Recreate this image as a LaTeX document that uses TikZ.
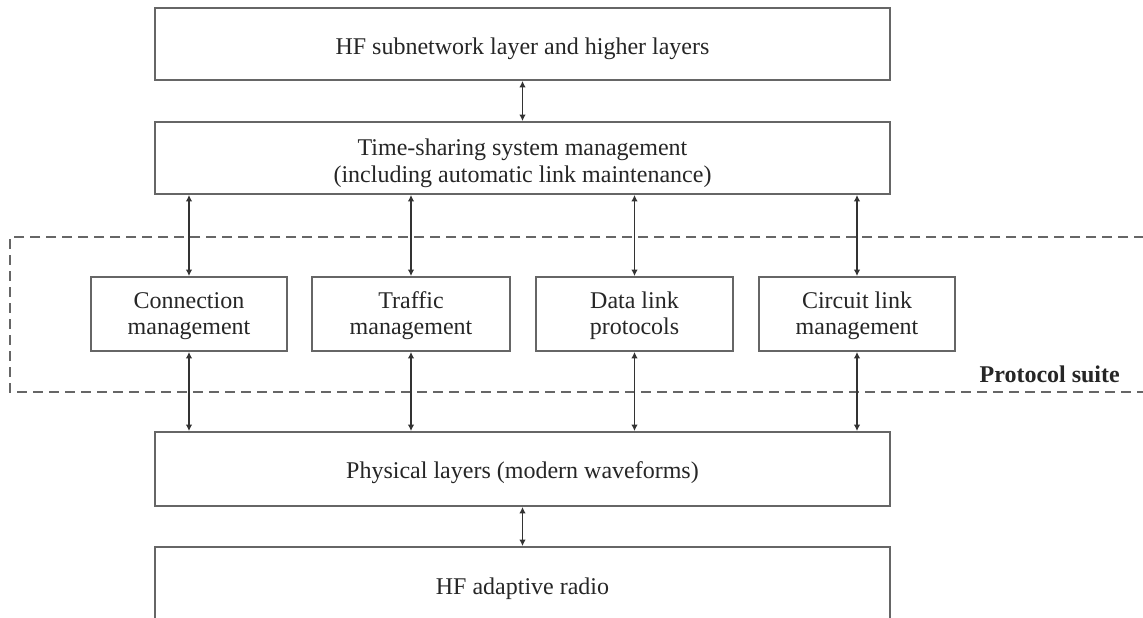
\documentclass[tikz,border=0pt]{standalone}
\usepackage{fontspec}
\setmainfont{Liberation Serif}
\usetikzlibrary{arrows.meta}
\definecolor{boxline}{HTML}{666666}
\definecolor{arrline}{HTML}{333333}
\definecolor{txt}{HTML}{262626}
\newcommand{\liftA}{\rule{0pt}{20.4pt}}
\newcommand{\liftB}{\rule{0pt}{28pt}}
\tikzset{
  layerbox/.style={draw=boxline, line width=1.8pt, fill=white, inner sep=0pt, minimum height=72pt, minimum width=735pt, align=center, text=txt, font=\fontsize{24}{27}\selectfont},
  onelayer/.style={layerbox, text height=24.5pt, text depth=5.2pt},
  subbox/.style={draw=boxline, line width=1.8pt, fill=white, inner sep=0pt, minimum height=74pt, minimum width=197pt, align=center, text=txt, font=\fontsize{24}{26.5}\selectfont},
  biarrow/.style={draw=arrline, line width=1.5pt, {Latex[length=6.5pt,width=6.5pt]}-{Latex[length=6.5pt,width=6.5pt]}},
  suitebox/.style={draw=boxline, line width=1.6pt, dash pattern=on 10pt off 6pt},
}
\begin{document}
\begin{tikzpicture}[x=1pt,y=-1pt]
\useasboundingbox (0,0) rectangle (1143,618);
\clip (0,0) rectangle (1143,618);
\fill[white] (0,0) rectangle (1143,618);
% dashed protocol suite region
\draw[suitebox] (1160,237) -- (10,237) -- (10,392) -- (1160,392);
\node[font=\fontsize{24}{27}\selectfont\bfseries, text=txt, anchor=base east, inner sep=0pt] (suite) at (1120,382) {Protocol suite};
% layer boxes
\node[onelayer, text height=25.5pt] (top) at (522.5,44) {HF subnetwork layer and higher layers};
\node[layerbox] (ts) at (522.5,158) {\liftB Time-sharing system management\\(including automatic link maintenance)};
\node[onelayer, minimum height=74pt] (phys) at (522.5,469) {Physical layers (modern waveforms)};
\node[onelayer, minimum height=76pt] (radio) at (522.5,585) {HF adaptive radio};
% protocol boxes
\node[subbox, minimum width=196pt] (conn) at (189,314) {\liftA Connection\\management};
\node[subbox, minimum width=198pt] (traf) at (411,314) {\liftA Traffic\\management};
\node[subbox] (data) at (634.5,314) {\liftA Data link\\protocols};
\node[subbox, minimum width=196pt] (circ) at (857,314) {\liftA Circuit link\\management};
% arrows
\draw[biarrow] (top.south) -- (ts.north);
\draw[biarrow] (phys.south) -- (radio.north);
\foreach \n in {conn,traf,data,circ}{
  \draw[biarrow] (ts.south -| \n.north) -- (\n.north);
  \draw[biarrow] (\n.south) -- (phys.north -| \n.south);
}
\end{tikzpicture}
\end{document}
